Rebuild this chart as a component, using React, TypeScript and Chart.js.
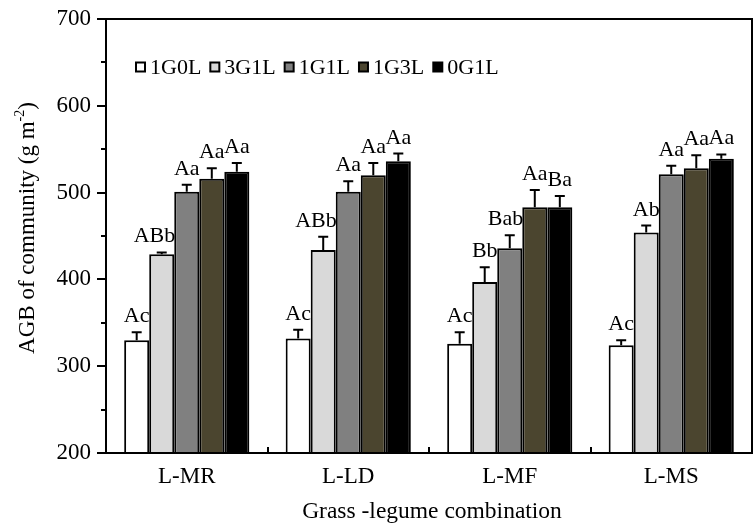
import React, { useEffect, useRef } from "react";
import { Chart, registerables } from "chart.js";

Chart.register(...registerables);

const categories = ["L-MR", "L-LD", "L-MF", "L-MS"];
const seriesNames = ["1G0L", "3G1L", "1G1L", "1G3L", "0G1L"];
const seriesColors = ["#ffffff", "#d9d9d9", "#808080", "#4b452f", "#000000"];

const v1G0L = [330, 332, 326, 324];
const v3G1L = [429, 434, 397, 454];
const v1G1L = [501, 501, 436, 521];
const v1G3L = [516, 520, 483, 528];
const v0G1L = [524, 536, 483, 539];

const e1G0L = [9, 10, 13, 6];
const e3G1L = [2, 15, 17, 8];
const e1G1L = [8, 12, 15, 10];
const e1G3L = [12, 14, 20, 15];
const e0G1L = [10, 9, 13, 5];

const l1G0L = ["Ac", "Ac", "Ac", "Ac"];
const l3G1L = ["ABb", "ABb", "Bb", "Ab"];
const l1G1L = ["Aa", "Aa", "Bab", "Aa"];
const l1G3L = ["Aa", "Aa", "Aa", "Aa"];
const l0G1L = ["Aa", "Aa", "Ba", "Aa"];

const yTicks = [200, 300, 400, 500, 600, 700];
const yMin = 200;
const yMax = 700;
const yMinorStep = 50;

const values = [v1G0L, v3G1L, v1G1L, v1G3L, v0G1L];
const errors = [e1G0L, e3G1L, e1G1L, e1G3L, e0G1L];
const letters = [l1G0L, l3G1L, l1G1L, l1G3L, l0G1L];

const FONT = "'Liberation Serif', 'Times New Roman', serif";

const decorPlugin = {
  id: "decor",
  afterDatasetsDraw(chart: any) {
    const ctx = chart.ctx;
    const ys = chart.scales.y;
    ctx.save();
    ctx.strokeStyle = "#000";
    ctx.lineWidth = 2;
    ctx.font = `22px ${FONT}`;
    ctx.fillStyle = "#000";
    ctx.textBaseline = "alphabetic";
    chart.data.datasets.forEach((ds: any, di: number) => {
      const meta = chart.getDatasetMeta(di);
      meta.data.forEach((bar: any, i: number) => {
        const v = values[di][i];
        const e = errors[di][i];
        const yTop = ys.getPixelForValue(v);
        const yErr = ys.getPixelForValue(v + e);
        const x = bar.x;
        ctx.beginPath();
        ctx.moveTo(x, yTop);
        ctx.lineTo(x, yErr);
        ctx.moveTo(x - 5, yErr);
        ctx.lineTo(x + 5, yErr);
        ctx.stroke();
        const txt = letters[di][i];
        const w = ctx.measureText(txt).width;
        let left = x - w / 2;
        const barRight = x + bar.width / 2;
        if (left + w > barRight + 1) left = barRight + 1 - w;
        ctx.textAlign = "left";
        ctx.fillText(txt, left, yErr - 10);
      });
    });
    ctx.restore();
  },
  afterDraw(chart: any) {
    const ctx = chart.ctx;
    const ca = chart.chartArea;
    const ys = chart.scales.y;
    ctx.save();
    ctx.strokeStyle = "#000";
    ctx.lineWidth = 2;
    ctx.strokeRect(ca.left, ca.top, ca.right - ca.left, ca.bottom - ca.top);
    ctx.beginPath();
    for (let v = yMin; v <= yMax; v += yMinorStep) {
      const y = Math.round(ys.getPixelForValue(v));
      const len = yTicks.includes(v) ? 9 : 5;
      ctx.moveTo(ca.left - len, y);
      ctx.lineTo(ca.left, y);
    }
    const cw = (ca.right - ca.left) / categories.length;
    for (let i = 1; i < categories.length; i++) {
      const x = Math.round(ca.left + i * cw);
      ctx.moveTo(x, ca.bottom);
      ctx.lineTo(x, ca.bottom - 6);
    }
    ctx.stroke();

    // legend
    ctx.font = `22px ${FONT}`;
    ctx.textBaseline = "middle";
    ctx.textAlign = "left";
    let lx = 136;
    const ly = 67;
    seriesNames.forEach((name, i) => {
      ctx.fillStyle = seriesColors[i];
      ctx.fillRect(lx, ly - 4.5, 9, 9);
      ctx.lineWidth = 2;
      ctx.strokeStyle = "#000";
      ctx.strokeRect(lx, ly - 4.5, 9, 9);
      ctx.fillStyle = "#000";
      ctx.fillText(name, lx + 14, ly + 1);
      lx += 14 + ctx.measureText(name).width + 9;
    });

    // y title with superscript
    ctx.save();
    ctx.translate(28, 228);
    ctx.rotate(-Math.PI / 2);
    ctx.textBaseline = "middle";
    const main = "AGB of community (g m";
    const sup = "-2";
    const close = ")";
    ctx.font = `23px ${FONT}`;
    const wMain = ctx.measureText(main).width;
    const wClose = ctx.measureText(close).width;
    ctx.font = `14px ${FONT}`;
    const wSup = ctx.measureText(sup).width;
    const total = wMain + wSup + wClose;
    let tx = -total / 2;
    ctx.font = `23px ${FONT}`;
    ctx.fillStyle = "#000";
    ctx.fillText(main, tx, 0);
    tx += wMain;
    ctx.font = `14px ${FONT}`;
    ctx.fillText(sup, tx, -8);
    tx += wSup;
    ctx.font = `23px ${FONT}`;
    ctx.fillText(close, tx, 0);
    ctx.restore();

    // x title
    ctx.font = `23.5px ${FONT}`;
    ctx.textAlign = "center";
    ctx.textBaseline = "middle";
    ctx.fillStyle = "#000";
    ctx.fillText("Grass -legume combination", 432, 512);
    ctx.restore();
  },
};

export default function App() {
  const ref = useRef<HTMLCanvasElement | null>(null);
  useEffect(() => {
    document.body.style.margin = "0";
    if (!ref.current) return;
    const chart = new Chart(ref.current, {
      type: "bar",
      data: {
        labels: categories,
        datasets: seriesNames.map((name, i) => ({
          label: name,
          data: values[i],
          backgroundColor: seriesColors[i],
          borderColor: "#000",
          borderWidth: 2,
          borderSkipped: false,
          categoryPercentage: 0.775,
          barPercentage: 1,
        })),
      },
      options: {
        animation: false,
        responsive: false,
        maintainAspectRatio: false,
        layout: { padding: { top: 19, right: 1, left: 0, bottom: 0 } },
        plugins: {
          legend: { display: false },
          tooltip: { enabled: false },
        },
        scales: {
          x: {
            grid: { display: false, drawTicks: false },
            border: { display: false },
            ticks: {
              color: "#000",
              font: { family: FONT, size: 23 },
              padding: 10,
            },
            afterFit(scale: any) {
              scale.height = 73;
              scale.paddingLeft = 0;
              scale.paddingRight = 0;
            },
          },
          y: {
            min: yMin,
            max: yMax,
            grid: { display: false, drawTicks: false },
            border: { display: false },
            ticks: {
              stepSize: 100,
              color: "#000",
              font: { family: FONT, size: 23 },
              padding: 15,
              callback: (v: any) => (yTicks.includes(Number(v)) ? String(v) : ""),
            },
            afterFit(scale: any) {
              scale.width = 106;
              scale.paddingTop = 0;
              scale.paddingBottom = 0;
            },
          },
        },
      },
      plugins: [decorPlugin],
    });
    return () => chart.destroy();
  }, []);
  return (
    <div style={{ width: 753, height: 526 }}>
      <canvas ref={ref} width={753} height={526} style={{ width: 753, height: 526 }} />
    </div>
  );
}
